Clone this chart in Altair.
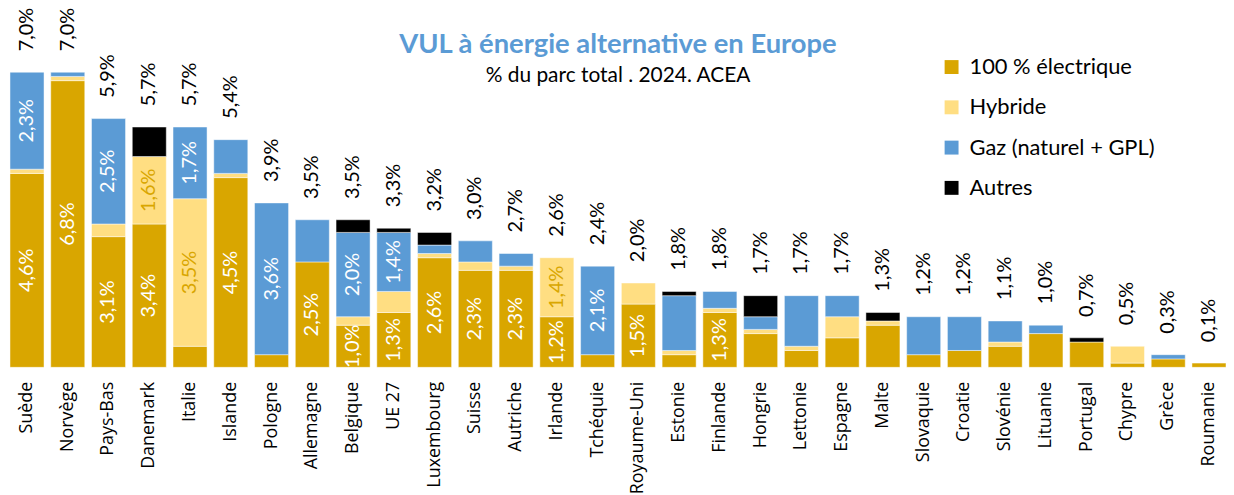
import altair as alt
import pandas as pd

countries = ["Suède", "Norvège", "Pays-Bas", "Danemark", "Italie", "Islande", "Pologne",
             "Allemagne", "Belgique", "UE 27", "Luxembourg", "Suisse", "Autriche", "Irlande",
             "Tchéquie", "Royaume-Uni", "Estonie", "Finlande", "Hongrie", "Lettonie", "Espagne",
             "Malte", "Slovaquie", "Croatie", "Slovénie", "Lituanie", "Portugal", "Chypre",
             "Grèce", "Roumanie"]
elec = [4.6, 6.8, 3.1, 3.4, 0.5, 4.5, 0.3, 2.5, 1.0, 1.3, 2.6, 2.3, 2.3, 1.2, 0.3, 1.5, 0.3, 1.3,
        0.8, 0.4, 0.7, 1.0, 0.3, 0.4, 0.5, 0.8, 0.6, 0.1, 0.2, 0.1]
hybride = [0.1, 0.1, 0.3, 1.6, 3.5, 0.1, 0.0, 0.0, 0.2, 0.5, 0.1, 0.2, 0.1, 1.4, 0.0, 0.5, 0.1, 0.1,
           0.1, 0.1, 0.5, 0.1, 0.0, 0.0, 0.1, 0.0, 0.0, 0.4, 0.0, 0.0]
gaz = [2.3, 0.1, 2.5, 0.0, 1.7, 0.8, 3.6, 1.0, 2.0, 1.4, 0.2, 0.5, 0.3, 0.0, 2.1, 0.0, 1.3, 0.4,
       0.3, 1.2, 0.5, 0.0, 0.9, 0.8, 0.5, 0.2, 0.0, 0.0, 0.1, 0.0]
autres = [0.0, 0.0, 0.0, 0.7, 0.0, 0.0, 0.0, 0.0, 0.3, 0.1, 0.3, 0.0, 0.0, 0.0, 0.0, 0.0, 0.1, 0.0,
          0.5, 0.0, 0.0, 0.2, 0.0, 0.0, 0.0, 0.0, 0.1, 0.0, 0.0, 0.0]
totals = [7.0, 7.0, 5.9, 5.7, 5.7, 5.4, 3.9, 3.5, 3.5, 3.3, 3.2, 3.0, 2.7, 2.6, 2.4, 2.0, 1.8, 1.8,
          1.7, 1.7, 1.7, 1.3, 1.2, 1.2, 1.1, 1.0, 0.7, 0.5, 0.3, 0.1]

series_names = ["100 % électrique", "Hybride", "Gaz (naturel + GPL)", "Autres"]
series_colors = ["#D9A600", "#FFDE82", "#5B9BD5", "#000000"]
label_colors = ["white", "#D9A600", "white", "white"]

# segments that carry a value label inside the bar: (country, series index)
labeled = [("Suède", 0), ("Suède", 2), ("Norvège", 0), ("Pays-Bas", 0), ("Pays-Bas", 2),
           ("Danemark", 0), ("Danemark", 1), ("Italie", 1), ("Italie", 2), ("Islande", 0),
           ("Pologne", 2), ("Allemagne", 0), ("Belgique", 0), ("Belgique", 2), ("UE 27", 0),
           ("UE 27", 2), ("Luxembourg", 0), ("Suisse", 0), ("Autriche", 0), ("Irlande", 0),
           ("Irlande", 1), ("Tchéquie", 2), ("Royaume-Uni", 0), ("Finlande", 0)]


def fmt(v):
    return f"{v:.1f}".replace(".", ",") + "%"


rows = []
for i, c in enumerate(countries):
    base = 0.0
    for k, vals in enumerate([elec, hybride, gaz, autres]):
        v = vals[i]
        rows.append(dict(pays=c, serie=series_names[k], valeur=v, y0=base, y1=base + v,
                         ymid=base + v / 2,
                         label=fmt(v) if (c, k) in labeled else "",
                         lcolor=label_colors[k]))
        base += v
seg = pd.DataFrame(rows)
bars_df = seg[seg.valeur > 0]
lab_df = seg[seg.label != ""]
tot_df = pd.DataFrame(dict(pays=countries,
                           top=[elec[i] + hybride[i] + gaz[i] + autres[i] for i in range(len(countries))],
                           label=[fmt(t) for t in totals]))

FONT = "Lato"
xaxis = alt.Axis(title=None, labelAngle=270, labelAlign="right", labelBaseline="middle",
                 labelPadding=14, labelFontSize=18, labelFont="Open Sans",
                 labelColor="black", domain=False, ticks=False, grid=False, labelLimit=300)
xenc = alt.X("pays:N", sort=countries,
             scale=alt.Scale(paddingInner=0.165, paddingOuter=0), axis=xaxis)
yscale = alt.Scale(domain=[0, 8.49], nice=False, zero=True)

bars = alt.Chart(bars_df).mark_bar(stroke="white", strokeWidth=0.8, strokeOpacity=0.6).encode(
    x=xenc,
    y=alt.Y("y0:Q", scale=yscale, axis=None),
    y2="y1:Q",
    color=alt.Color("serie:N",
                    scale=alt.Scale(domain=series_names, range=series_colors),
                    legend=alt.Legend(title=None, orient="none", legendX=936, legendY=47,
                                      symbolType="square", symbolSize=196, symbolStrokeWidth=0,
                                      symbolOpacity=1, labelFontSize=22, labelFont=FONT,
                                      labelColor="black", rowPadding=18.5, labelOffset=7,
                                      padding=0, labelLimit=400)),
)

seg_labels = alt.Chart(lab_df).mark_text(angle=270, align="center", baseline="middle",
                                         fontSize=20, font=FONT).encode(
    x=xenc,
    y=alt.Y("ymid:Q", scale=yscale, axis=None),
    text="label:N",
    color=alt.Color("lcolor:N", scale=None),
)

tot_labels = alt.Chart(tot_df).mark_text(angle=270, align="left", baseline="middle", dx=21,
                                         fontSize=20, font=FONT, color="black").encode(
    x=xenc,
    y=alt.Y("top:Q", scale=yscale, axis=None),
    text="label:N",
)

chart = alt.layer(bars, seg_labels, tot_labels).properties(
    width=1223, height=360,
    background="white",
    title=alt.TitleParams(text="VUL à énergie alternative en Europe",
                          subtitle="% du parc total . 2024. ACEA",
                          anchor="middle", frame="group", orient="top", offset=-79,
                          font=FONT, fontSize=27.5, fontWeight="bold", color="#5B9BD5",
                          subtitleFont=FONT, subtitleFontSize=21, subtitleColor="black",
                          subtitlePadding=7),
    padding={"left": 2, "top": 0, "right": 0, "bottom": 127},
    autosize=alt.AutoSizeParams(type="none"),
).configure_view(stroke=None, strokeWidth=0).configure_axis(
    grid=False, domain=False, ticks=False
)

chart.save("out.html", embed_options={"renderer": "svg", "actions": False})
